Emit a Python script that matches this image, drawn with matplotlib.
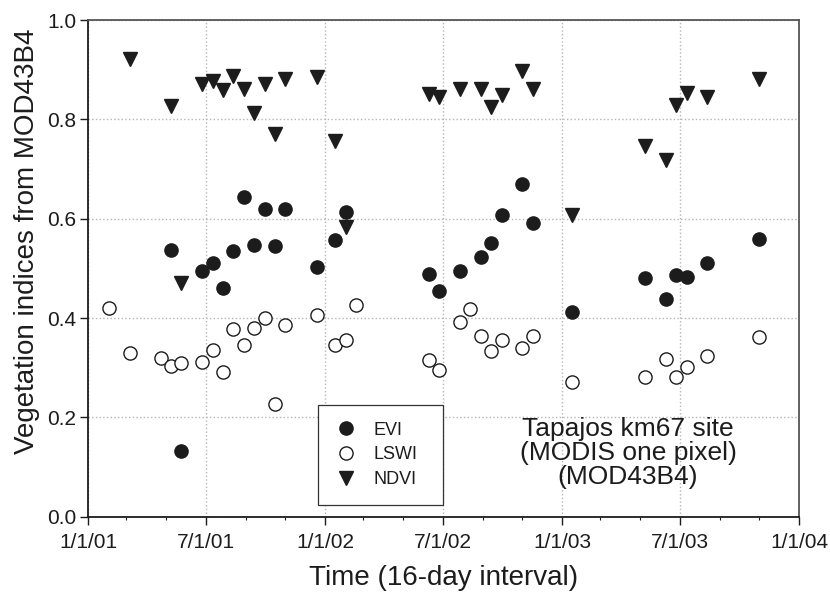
import pandas as pd
import numpy as np
import matplotlib
matplotlib.use('Agg')
import matplotlib.pyplot as plt
import matplotlib.dates as mdates

plt.rcParams['font.family'] = ['Liberation Sans', 'DejaVu Sans']

# MOD43B4 16-day composites: (year, day of year) and index values
evi_year = [2001] * 12 + [2002] * 10 + [2003] * 7
evi_doy = [129, 145, 177, 193, 209, 225, 241, 257, 273, 289, 305, 353,
           17, 33, 161, 177, 209, 241, 257, 273, 305, 321,
           17, 129, 161, 177, 193, 225, 305]
evi = [0.536, 0.133, 0.494, 0.511, 0.460, 0.534, 0.644, 0.548, 0.619, 0.544, 0.619, 0.503,
       0.558, 0.614, 0.489, 0.454, 0.494, 0.523, 0.552, 0.607, 0.669, 0.592,
       0.413, 0.480, 0.438, 0.487, 0.483, 0.511, 0.559]

lswi_year = [2001] * 15 + [2002] * 12 + [2003] * 7
lswi_doy = [33, 65, 113, 129, 145, 177, 193, 209, 225, 241, 257, 273, 289, 305, 353,
            17, 33, 49, 161, 177, 209, 225, 241, 257, 273, 305, 321,
            17, 129, 161, 177, 193, 225, 305]
lswi = [0.421, 0.329, 0.320, 0.303, 0.309, 0.312, 0.335, 0.292, 0.377, 0.346, 0.380, 0.401, 0.226, 0.386, 0.406,
        0.345, 0.355, 0.427, 0.315, 0.296, 0.391, 0.419, 0.364, 0.333, 0.356, 0.339, 0.363,
        0.272, 0.281, 0.318, 0.281, 0.302, 0.323, 0.362]

ndvi_year = [2001] * 13 + [2002] * 10 + [2003] * 7
ndvi_doy = [65, 129, 145, 177, 193, 209, 225, 241, 257, 273, 289, 305, 353,
            17, 33, 161, 177, 209, 241, 257, 273, 305, 321,
            17, 129, 161, 177, 193, 225, 305]
ndvi = [0.921, 0.827, 0.471, 0.872, 0.878, 0.859, 0.887, 0.861, 0.812, 0.871, 0.771, 0.881, 0.886,
        0.756, 0.583, 0.852, 0.844, 0.862, 0.861, 0.825, 0.849, 0.897, 0.862,
        0.608, 0.746, 0.718, 0.829, 0.853, 0.844, 0.882]

tick_dates = ['2001-01-01', '2001-07-01', '2002-01-01', '2002-07-01',
              '2003-01-01', '2003-07-01', '2004-01-01']
tick_labels = ['1/1/01', '7/1/01', '1/1/02', '7/1/02', '1/1/03', '7/1/03', '1/1/04']


def to_dates(years, doys):
    return [pd.Timestamp(year=y, month=1, day=1) + pd.Timedelta(days=d - 1)
            for y, d in zip(years, doys)]


ink = '#1c1c1c'
fig = plt.figure(figsize=(8.3, 5.92), dpi=100)
ax = fig.add_axes([0.106, 0.1272, 0.8567, 0.839])

ax.plot(to_dates(evi_year, evi_doy), evi, 'o', ms=9.5, color=ink, mec=ink, label='EVI', zorder=3)
ax.plot(to_dates(lswi_year, lswi_doy), lswi, 'o', ms=9.5, mfc='white', mec=ink, mew=1.0,
        label='LSWI', zorder=3)
ax.plot(to_dates(ndvi_year, ndvi_doy), ndvi, 'v', ms=9.5, color=ink, mec=ink, label='NDVI', zorder=3)

ax.set_xlim(pd.Timestamp('2001-01-01'), pd.Timestamp('2004-01-01'))
ax.set_ylim(0, 1.0)
ax.set_xticks([pd.Timestamp(t) for t in tick_dates])
ax.set_xticklabels(tick_labels)
ax.xaxis.set_minor_locator(mdates.MonthLocator(bymonth=[3, 5, 9, 11]))
ax.set_yticks(np.arange(0, 1.01, 0.2))
ax.yaxis.set_major_formatter(plt.FormatStrFormatter('%.1f'))

ax.tick_params(axis='both', which='major', direction='out', length=5.5, width=1.0,
               labelsize=15, colors=ink)
ax.tick_params(axis='x', which='major', pad=6)
ax.tick_params(axis='y', which='major', pad=3)
ax.tick_params(axis='x', which='minor', direction='out', length=2.5, width=0.8, color=ink)

ax.grid(True, which='major', linestyle=':', color='#b5b5b5', linewidth=1.0, zorder=0)
ax.set_axisbelow(True)

for side in ['left', 'bottom']:
    ax.spines[side].set_color(ink)
    ax.spines[side].set_linewidth(1.3)
for side in ['top', 'right']:
    ax.spines[side].set_color('#555555')
    ax.spines[side].set_linewidth(1.3)

ax.set_xlabel('Time (16-day interval)', fontsize=20, color=ink)
ax.set_ylabel('Vegetation indices from MOD43B4', fontsize=20, color=ink)
ax.xaxis.set_label_coords(0.5, -0.097)
ax.yaxis.set_label_coords(-0.0675, 0.555)

leg = ax.legend(loc='lower left', bbox_to_anchor=(0.3235, 0.0236, 0.1758, 0.2), mode='expand',
                fontsize=13, frameon=True, fancybox=False, edgecolor='#333333', framealpha=1,
                handletextpad=0.9, labelspacing=0.42, borderpad=0.95, handlelength=1.2,
                borderaxespad=0)
leg.get_frame().set_linewidth(0.9)
for t in leg.get_texts():
    t.set_color(ink)

ax.text(0.7595, 0.129, 'Tapajos km67 site\n(MODIS one pixel)\n(MOD43B4)',
        transform=ax.transAxes, ha='center', va='center', fontsize=19,
        linespacing=1.0, color=ink)

fig.savefig('out.png', dpi=100)
